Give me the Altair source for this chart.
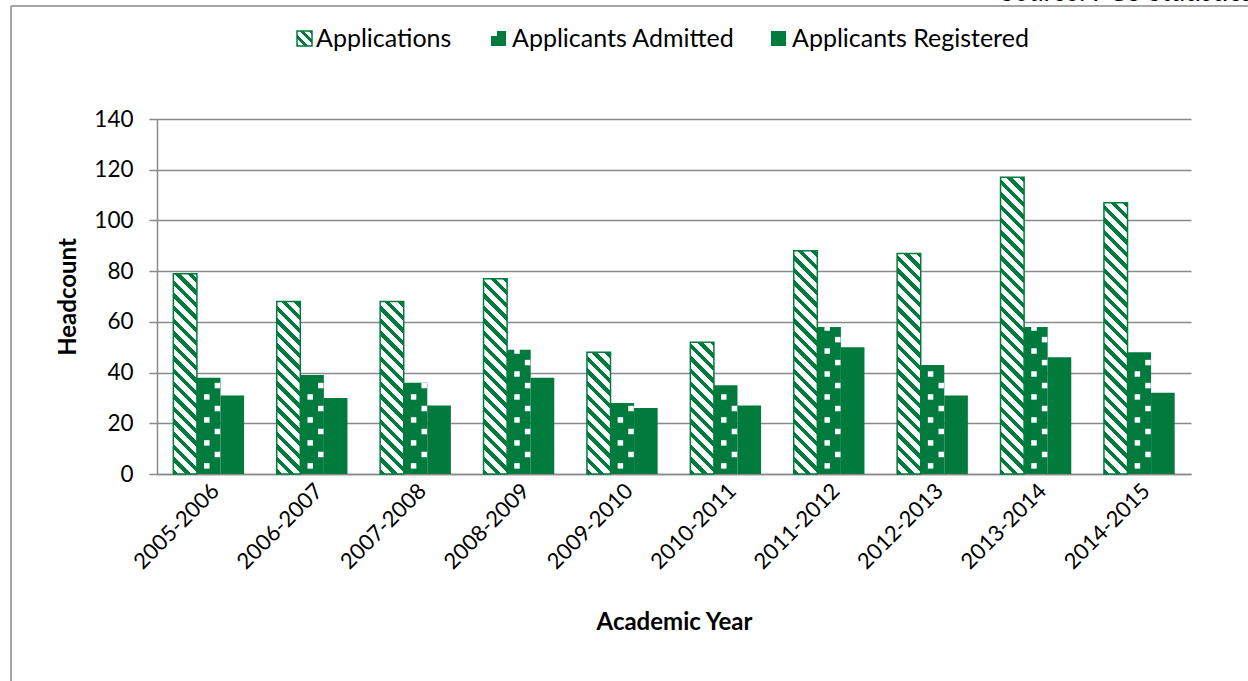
import altair as alt
import pandas as pd

# ---------------- data ----------------
years = ['2005-2006', '2006-2007', '2007-2008', '2008-2009', '2009-2010',
         '2010-2011', '2011-2012', '2012-2013', '2013-2014', '2014-2015']
series = ['Applications', 'Applicants Admitted', 'Applicants Registered']
applications = [79, 68, 68, 77, 48, 52, 88, 87, 117, 107]
admitted = [38, 39, 36, 49, 28, 35, 58, 43, 58, 48]
registered = [31, 30, 27, 38, 26, 27, 50, 31, 46, 32]
y_ticks = [0, 20, 40, 60, 80, 100, 120, 140]
source_note = 'Source: PGS Statistics'

# ---------------- layout / style ----------------
GREEN = '#007A3D'
GRID = '#8a8a8a'
FONT = 'Lato'
PLOT_W, PLOT_H = 1034, 355
LEFT, TOP = 157, 119
Y_MAX = 140
PAD_INNER, PAD_OUTER = 0.316, 0.158

step = PLOT_W / (len(years) - PAD_INNER + 2 * PAD_OUTER)
bar_w = step * (1 - PAD_INNER) / 3
px_per_unit = PLOT_H / Y_MAX


def stripe_gradient(w, h, period=12.6, frac=0.42, fg=GREEN, bg='white', phase=0.0):
    """Diagonal ('\\') hatch expressed as a hard-stop linear gradient in bbox units."""
    L = w + h
    a = L / (w * w + h * h)
    stops = []
    pos = phase
    while pos < L:
        g0 = max(pos / L, 0.0)
        g1 = min((pos + frac * period) / L, 1.0)
        if g1 > g0:
            stops += [{'offset': round(g0, 5), 'color': bg},
                      {'offset': round(g0, 5), 'color': fg},
                      {'offset': round(g1, 5), 'color': fg},
                      {'offset': round(g1, 5), 'color': bg}]
        pos += period
    return {'gradient': 'linear', 'x1': 0, 'y1': 1,
            'x2': round(a * w, 5), 'y2': round(1 - a * h, 5), 'stops': stops}


df = pd.DataFrame({
    'Year': years * 3,
    'Series': [s for s in series for _ in years],
    'Value': applications + admitted + registered,
})

# dotted pattern for the "Admitted" bars (rows follow the value of each bar)
DOT_STEP = 9.06
dot_cols = [(-1.9, 3.2), (8.7, 7.7)]   # (pixel offset from group centre, phase in units)
dot_frames = []
for off, ph in dot_cols:
    rows = []
    for yr, v in zip(years, admitted):
        yv = ph
        while yv < v - 0.4:
            rows.append({'Year': yr, 'Value': yv})
            yv += DOT_STEP
    dot_frames.append((off, pd.DataFrame(rows)))

x_enc = alt.X('Year:N', sort=years,
              scale=alt.Scale(domain=years, paddingInner=PAD_INNER, paddingOuter=PAD_OUTER),
              axis=alt.Axis(title='Academic Year', labelAngle=315, labelAlign='right',
                            labelBaseline='middle', labelPadding=13, labelOffset=7,
                            labelFont=FONT, labelFontSize=22, labelColor='black',
                            ticks=False, domainColor=GRID, domainWidth=1.5, grid=False,
                            titleFont=FONT, titleFontSize=24, titleFontWeight='bold',
                            titleColor='black', titleX=PLOT_W / 2, titleY=148,
                            titleAlign='center', titleBaseline='middle'))
y_enc = alt.Y('Value:Q', scale=alt.Scale(domain=[0, Y_MAX], nice=False),
              axis=alt.Axis(title='Headcount', values=y_ticks, grid=True,
                            gridColor=GRID, gridWidth=1.5, domainColor=GRID,
                            domainWidth=1.5, tickColor=GRID, tickWidth=1.5, tickSize=8,
                            labelFont=FONT, labelFontSize=22.5, labelColor='black',
                            labelPadding=16, titleFont=FONT, titleFontSize=24,
                            titleFontWeight='bold', titleColor='black', titleAngle=270,
                            titleX=-89, titleY=PLOT_H / 2, titleAlign='center',
                            titleBaseline='middle'))
xoff = alt.XOffset('Series:N', sort=series,
                   scale=alt.Scale(domain=series, paddingInner=0, paddingOuter=0))

base = alt.Chart(df)

solid = base.transform_filter(alt.datum.Series != series[0]).mark_bar(
    color=GREEN, stroke=None).encode(x=x_enc, y=y_enc, xOffset=xoff)

# Applications bars: hatched fill, one gradient per bar sized from its value
cond = None
for yr, v in zip(years, applications):
    g = stripe_gradient(bar_w, v * px_per_unit)
    test = alt.datum.Year == yr
    cond = alt.when(test).then(alt.value(g)) if cond is None else cond.when(test).then(alt.value(g))
fill_apps = cond.otherwise(alt.value('white'))

hatched = base.transform_filter(alt.datum.Series == series[0]).mark_bar(
    stroke=GREEN, strokeWidth=1.5).encode(x=x_enc, y=y_enc, xOffset=xoff, fill=fill_apps)

dot_layers = []
for off, dd in dot_frames:
    dot_layers.append(alt.Chart(dd).mark_square(size=30, color='white', filled=True,
                                                opacity=1, xOffset=off)
                      .encode(x=alt.X('Year:N', sort=years), y=alt.Y('Value:Q')))

one = alt.Data(values=[{'k': 0}])

# frame around the chart (partly outside the visible page)
frame_left = alt.Chart(one).mark_rule(color=GRID, strokeWidth=1.5).encode(
    x=alt.value(11 - LEFT), y=alt.value(6 - TOP), y2=alt.value(700 - TOP))
frame_top = alt.Chart(one).mark_rule(color=GRID, strokeWidth=1.5).encode(
    x=alt.value(11 - LEFT), x2=alt.value(1260 - LEFT), y=alt.value(6 - TOP))

src = alt.Chart(one).mark_text(font=FONT, fontSize=28, fontStyle='italic', align='left',
                               baseline='alphabetic', color='black').encode(
    x=alt.value(1001 - LEFT), y=alt.value(1 - TOP), text=alt.value(source_note))

# ---------------- legend ----------------
SW = 15
LEG_Y = 31
sw_x = [297, 491, 771]
tx_x = [316, 512, 792]

leg_apps = alt.Chart(one).mark_rect(stroke=GREEN, strokeWidth=1.5).encode(
    x=alt.value(sw_x[0] - LEFT), x2=alt.value(sw_x[0] + SW - LEFT),
    y=alt.value(LEG_Y - TOP), y2=alt.value(LEG_Y + SW - TOP),
    fill=alt.value(stripe_gradient(SW, SW, period=9.5, frac=0.45, phase=-2)))
leg_adm = alt.Chart(one).mark_rect(color=GREEN).encode(
    x=alt.value(sw_x[1] - LEFT), x2=alt.value(sw_x[1] + SW - LEFT),
    y=alt.value(LEG_Y - TOP), y2=alt.value(LEG_Y + SW - TOP))
leg_adm_notch = alt.Chart(one).mark_rect(color='white').encode(
    x=alt.value(sw_x[1] - LEFT), x2=alt.value(sw_x[1] + 6 - LEFT),
    y=alt.value(LEG_Y - TOP), y2=alt.value(LEG_Y + 5 - TOP))
leg_reg = alt.Chart(one).mark_rect(color=GREEN).encode(
    x=alt.value(sw_x[2] - LEFT), x2=alt.value(sw_x[2] + SW - LEFT),
    y=alt.value(LEG_Y - TOP), y2=alt.value(LEG_Y + SW - TOP))

leg_texts = []
for s, tx in zip(series, tx_x):
    leg_texts.append(alt.Chart(one).mark_text(font=FONT, fontSize=25, align='left',
                                              baseline='alphabetic', color='black').encode(
        x=alt.value(tx - LEFT), y=alt.value(46.5 - TOP), text=alt.value(s)))

chart = alt.layer(
    solid, hatched, *dot_layers, frame_left, frame_top, src,
    leg_apps, leg_adm, leg_adm_notch, leg_reg, *leg_texts
).properties(
    width=PLOT_W, height=PLOT_H,
    autosize=alt.AutoSizeParams(type='none'),
    padding={'left': LEFT, 'top': TOP, 'right': 1248 - LEFT - PLOT_W,
             'bottom': 681 - TOP - PLOT_H},
    background='white',
).configure_view(stroke=None)

chart.save('out.html', embed_options={'renderer': 'svg', 'actions': False})
